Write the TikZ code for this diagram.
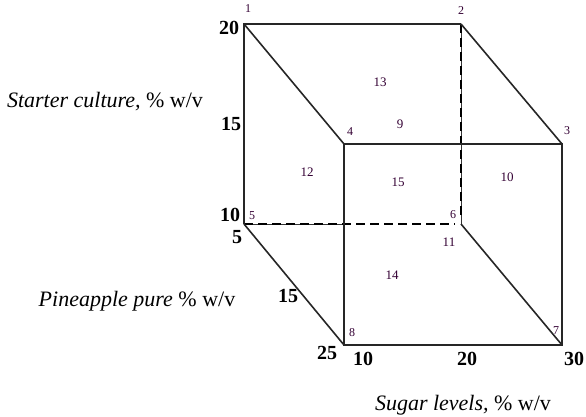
\documentclass[tikz,border=0pt]{standalone}
\usepackage{fontspec}
\setmainfont{Liberation Serif}
\begin{document}
\begin{tikzpicture}[x=1pt,y=-1pt,
  edge/.style={draw=black!85,line width=1.6pt},
  hid/.style={draw=black,line width=2.2pt,dash pattern=on 9pt off 5pt},
  thin/.style={draw=black!80,line width=0.8pt},
  vlab/.style={font=\fontsize{12}{12}\selectfont,text=violet!40!black,inner sep=0pt},
  flab/.style={font=\fontsize{13}{13}\selectfont,text=violet!40!black,inner sep=0pt},
  tick/.style={font=\bfseries\fontsize{20}{20}\selectfont,inner sep=0pt},
  axl/.style={font=\fontsize{22}{22}\selectfont,inner sep=0pt}]
\useasboundingbox (0,0) rectangle (586,417);
\coordinate (v1) at (244,24);
\coordinate (v2) at (461,24);
\coordinate (v3) at (562,144);
\coordinate (v4) at (344,144);
\coordinate (v5) at (244,224);
\coordinate (v6) at (461,224);
\coordinate (v7) at (562,345);
\coordinate (v8) at (344,345);
\coordinate (m56) at (344,224);
\coordinate (e6) at (455,224);
\coordinate (e2) at (461,218);
% hidden edges
\draw[thin] (v5) -- (m56);
\draw[thin] (v2) -- (v6);
\draw[hid] (v5) -- (e6);
\draw[hid] (v2) -- (e2);
% back face visible edges
\draw[edge] (v5) -- (v1) -- (v2);
% depth edges
\draw[edge] (v1) -- (v4);
\draw[edge] (v2) -- (v3);
\draw[edge] (v5) -- (v8);
\draw[edge] (v6) -- (v7);
% front face
\draw[edge] (v4) -- (v3) -- (v7) -- (v8) -- cycle;
% vertex labels
\node[vlab] (n1) at (248,9) {1};
\node[vlab] (n2) at (461,11) {2};
\node[vlab] (n3) at (567,131) {3};
\node[vlab] (n4) at (350,132) {4};
\node[vlab] (n5) at (252,216) {5};
\node[vlab] (n6) at (453,215) {6};
\node[vlab] (n7) at (556,331) {7};
\node[vlab] (n8) at (352,333) {8};
% face labels
\node[flab] (f13) at (380,82) {13};
\node[flab] (f9) at (400,124) {9};
\node[flab] (f12) at (307,172) {12};
\node[flab] (f15) at (398,182) {15};
\node[flab] (f10) at (507,177) {10};
\node[flab] (f11) at (449,242) {11};
\node[flab] (f14) at (392,275) {14};
% tick labels
\node[tick] (t20) at (229,28) {20};
\node[tick] (t15) at (231,124) {15};
\node[tick] (t10) at (230,215) {10};
\node[tick] (p5) at (237,237) {5};
\node[tick] (p15) at (288,296) {15};
\node[tick] (p25) at (327,353) {25};
\node[tick] (s10) at (363,359) {10};
\node[tick] (s20) at (467,359) {20};
\node[tick] (s30) at (574,359) {30};
% axis labels
\node[axl] (ay) at (105,102) {\textit{Starter culture,} \% w/v};
\node[axl] (ap) at (137,301) {\textit{Pineapple pure} \% w/v};
\node[axl] (ax) at (463,405) {\textit{Sugar levels,} \% w/v};
\end{tikzpicture}
\end{document}
